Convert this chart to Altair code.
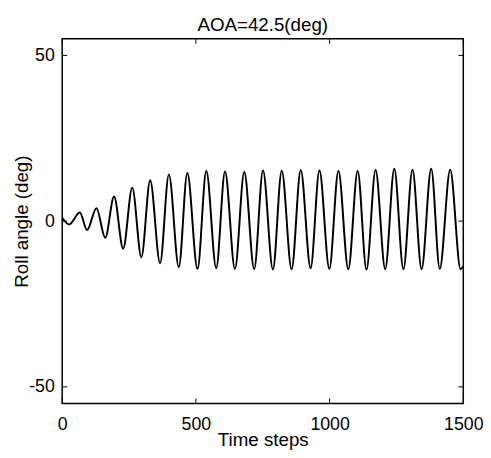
import altair as alt
import pandas as pd

# Extrema of the roll-angle trace (time step, degrees)
steps = [0, 26, 66, 93, 128, 161, 194, 228, 262, 296, 329, 366, 399, 436, 468,
         506, 539, 576, 609, 646, 681, 718, 751, 788, 821, 858, 892, 929, 962,
         999, 1033, 1070, 1105, 1138, 1172, 1208, 1242, 1276, 1310, 1344, 1380,
         1412, 1451, 1490, 1500]
roll = [1.0, -1.0, 2.6, -2.7, 3.9, -5.0, 7.4, -8.3, 10.1, -10.9, 12.3, -12.7,
        14.1, -13.9, 14.5, -14.4, 15.1, -14.2, 15.0, -14.4, 14.8, -14.5, 15.3,
        -14.6, 15.2, -14.5, 15.4, -14.2, 15.3, -14.4, 15.1, -14.5, 15.1, -14.6,
        15.4, -14.5, 15.8, -14.5, 15.5, -14.5, 15.8, -14.4, 15.5, -14.5, -13.5]

x_ticks = [0, 500, 1000, 1500]
y_ticks = [-50, 0, 50]

W, H = 407, 370
FONT = "Liberation Sans"
LABEL_EXPR = "datum.value < 0 ? '-' + abs(datum.value) : '' + datum.value"

df = pd.DataFrame({"t": steps, "roll": roll})
xt = pd.DataFrame({"t": x_ticks})
yt = pd.DataFrame({"roll": y_ticks})

xs = alt.Scale(domain=[0, 1500], nice=False, zero=False)
ys = alt.Scale(domain=[-55, 55], nice=False, zero=False)

x_axis = alt.Axis(values=x_ticks, title="Time steps", ticks=False, tickSize=0,
                  domain=False, grid=False, labelFont=FONT, labelFontSize=18,
                  labelColor="black", labelPadding=12, labelFlush=False,
                  labelExpr=LABEL_EXPR,
                  titleFont=FONT, titleFontSize=19, titleFontWeight="normal",
                  titleColor="black", titleBaseline="alphabetic",
                  titleX=W / 2, titleY=43)
y_axis = alt.Axis(values=y_ticks, title="Roll angle (deg)", ticks=False, tickSize=0,
                  domain=False, grid=False, labelFont=FONT, labelFontSize=18,
                  labelColor="black", labelPadding=8, labelExpr=LABEL_EXPR,
                  titleFont=FONT, titleFontSize=19, titleFontWeight="normal",
                  titleColor="black", titleBaseline="middle", titleAngle=270,
                  titleX=-41, titleY=H / 2)

line = alt.Chart(df).mark_line(color="black", strokeWidth=2, interpolate="monotone").encode(
    x=alt.X("t:Q", scale=xs, axis=x_axis),
    y=alt.Y("roll:Q", scale=ys, axis=y_axis),
)

xb = alt.Chart(xt).mark_rule(color="black", strokeWidth=1).encode(
    x=alt.X("t:Q", scale=xs, axis=x_axis), y=alt.value(H), y2=alt.value(H - 5))
xtop = alt.Chart(xt).mark_rule(color="black", strokeWidth=1).encode(
    x=alt.X("t:Q", scale=xs, axis=x_axis), y=alt.value(0), y2=alt.value(5))
yl = alt.Chart(yt).mark_rule(color="black", strokeWidth=1).encode(
    y=alt.Y("roll:Q", scale=ys, axis=y_axis), x=alt.value(0), x2=alt.value(5))
yr = alt.Chart(yt).mark_rule(color="black", strokeWidth=1).encode(
    y=alt.Y("roll:Q", scale=ys, axis=y_axis), x=alt.value(W - 5), x2=alt.value(W))

chart = alt.layer(line, xb, xtop, yl, yr).properties(
    width=W, height=H,
    title=alt.TitleParams("AOA=42.5(deg)", font=FONT, fontSize=19, fontWeight="normal",
                          color="black", anchor="middle", offset=3),
    autosize=alt.AutoSizeParams(type="none"),
    padding={"left": 55, "top": 28, "right": 20, "bottom": 44},
    background="white",
).configure_view(stroke="black", strokeWidth=1.5)

chart.save("out.html", embed_options={"renderer": "svg", "actions": False})
